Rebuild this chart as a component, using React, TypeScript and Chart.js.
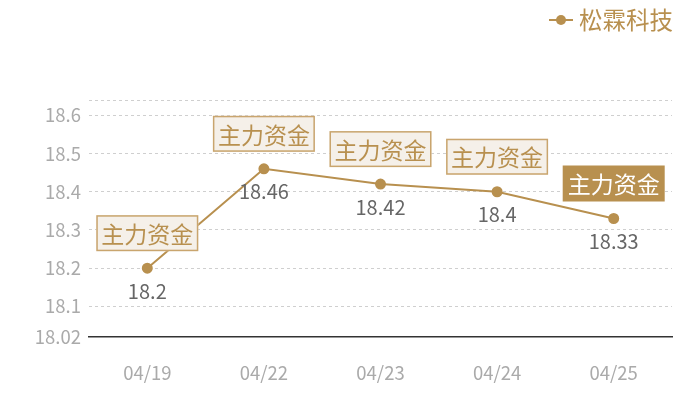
import React, { useEffect, useRef } from "react";
import { Chart, registerables } from "chart.js";

Chart.register(...registerables);

const categories = ["04/19", "04/22", "04/23", "04/24", "04/25"];
const prices = [18.2, 18.46, 18.42, 18.4, 18.33];
const markLabels = ["主力资金", "主力资金", "主力资金", "主力资金", "主力资金"];
const highlighted = [false, false, false, false, true];
const seriesName = "松霖科技";
const yMin = 18.02;
const yMax = 18.64;

const GOLD = "#b8904f";
const FONT = "'Noto Sans CJK SC', 'Noto Sans', sans-serif";

const overlayPlugin = {
  id: "overlay",
  afterDatasetsDraw(chart: any) {
    const ctx = chart.ctx;
    const meta = chart.getDatasetMeta(0);
    ctx.save();
    meta.data.forEach((pt: any, i: number) => {
      const x = pt.x;
      const y = pt.y;
      // value label
      ctx.font = `20px ${FONT}`;
      ctx.fillStyle = "#666";
      ctx.textAlign = "center";
      ctx.textBaseline = "middle";
      ctx.fillText(String(prices[i]), x, y + 23);
      // box label
      ctx.font = `23px ${FONT}`;
      const w = 102;
      const h = 36;
      const bx = x - w / 2;
      const by = y - 17 - h;
      if (highlighted[i]) {
        ctx.fillStyle = GOLD;
        ctx.fillRect(bx, by, w, h);
        ctx.fillStyle = "#fff";
      } else {
        ctx.fillStyle = "#f5f0e9";
        ctx.fillRect(bx, by, w, h);
        ctx.strokeStyle = "#c9a56e";
        ctx.lineWidth = 1.5;
        ctx.strokeRect(bx + 0.75, by + 0.75, w - 1.5, h - 1.5);
        ctx.fillStyle = GOLD;
      }
      ctx.fillText(markLabels[i], x, by + h / 2 + 1);
    });
    // legend
    const lx = 549;
    const ly = 20;
    ctx.strokeStyle = GOLD;
    ctx.lineWidth = 2;
    ctx.beginPath();
    ctx.moveTo(lx, ly);
    ctx.lineTo(lx + 24, ly);
    ctx.stroke();
    ctx.fillStyle = GOLD;
    ctx.beginPath();
    ctx.arc(lx + 12, ly, 5, 0, Math.PI * 2);
    ctx.fill();
    ctx.font = `23.5px ${FONT}`;
    ctx.textAlign = "left";
    ctx.textBaseline = "middle";
    ctx.fillText(seriesName, lx + 30, ly);
    ctx.restore();
  },
};

export default function App() {
  const ref = useRef<HTMLCanvasElement>(null);
  useEffect(() => {
    document.body.style.margin = "0";
    const chart = new Chart(ref.current!, {
      type: "line",
      data: {
        labels: categories,
        datasets: [
          {
            label: seriesName,
            data: prices,
            borderColor: GOLD,
            backgroundColor: GOLD,
            borderWidth: 2,
            pointRadius: 4.5,
            pointHoverRadius: 4.5,
            pointBackgroundColor: GOLD,
            pointBorderColor: GOLD,
            tension: 0,
          },
        ],
      },
      options: {
        animation: false,
        responsive: false,
        layout: { padding: { top: 100, right: 28, left: 0, bottom: 0 } },
        plugins: { legend: { display: false }, tooltip: { enabled: false } },
        scales: {
          x: {
            offset: true,
            grid: { display: false },
            border: { display: true, color: "#333", width: 1.5 },
            ticks: { color: "#aaa", font: { size: 18.5, family: FONT }, padding: 17 },
            afterFit: (s: any) => {
              s.height = 63;
            },
          },
          y: {
            min: yMin,
            max: yMax,
            border: { display: false, dash: [3, 3] },
            grid: {
              color: (c: any) => (c.tick && c.tick.value === yMin ? "rgba(0,0,0,0)" : "#cfcfcf"),
              drawTicks: false,
            },
            ticks: {
              stepSize: 0.1,
              color: "#aaa",
              font: { size: 18.5, family: FONT },
              padding: 8,
              callback: (v: any) => (Math.abs(v - yMax) < 1e-6 ? "" : String(Math.round(v * 100) / 100)),
            },
            afterBuildTicks: (s: any) => {
              const t = [yMin, 18.1, 18.2, 18.3, 18.4, 18.5, 18.6, yMax];
              s.ticks = t.map((v) => ({ value: v }));
            },
            afterFit: (s: any) => {
              s.width = 89;
            },
          },
        },
      },
      plugins: [overlayPlugin],
    } as any);
    return () => chart.destroy();
  }, []);
  return (
    <div style={{ position: "absolute", left: 0, top: 0, width: 700, height: 400 }}>
      <canvas ref={ref} width={700} height={400} style={{ width: 700, height: 400 }} />
    </div>
  );
}
